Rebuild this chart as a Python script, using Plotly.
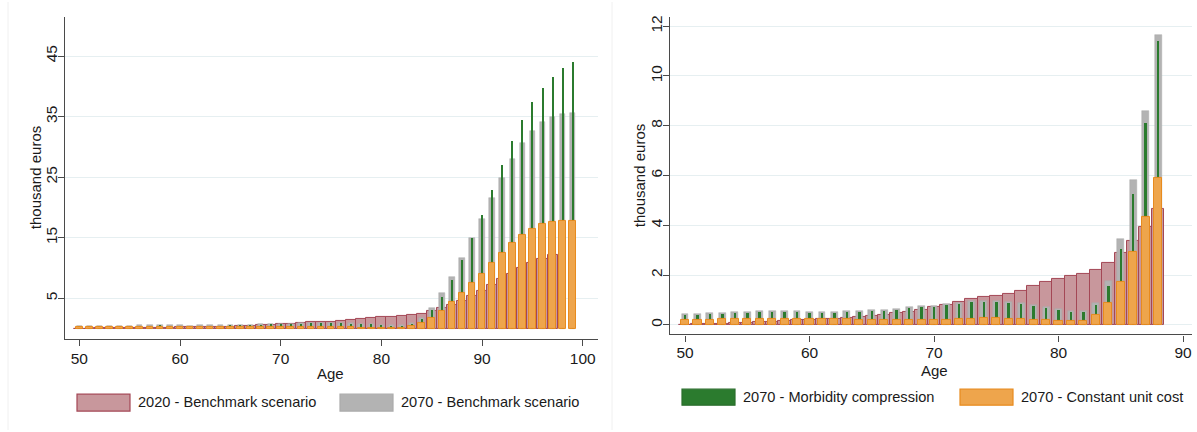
import plotly.graph_objects as go

# ---------------- data (thousand euros, by age) ----------------
ages = list(range(50, 100))

benchmark_2020 = [0.01, 0.02, 0.03, 0.05, 0.06, 0.08, 0.10, 0.12, 0.15, 0.18,
                  0.21, 0.23, 0.25, 0.27, 0.30, 0.35, 0.41, 0.47, 0.53, 0.61,
                  0.70, 0.81, 0.93, 1.04, 1.12, 1.16, 1.23, 1.38, 1.56, 1.73,
                  1.85, 1.96, 2.06, 2.22, 2.49, 2.90, 3.36, 3.95, 4.64, 5.40,
                  6.20, 7.20, 8.20, 9.10, 10.00, 10.80, 11.50, 12.20, None, None]

benchmark_2070 = [0.44, 0.44, 0.47, 0.49, 0.51, 0.52, 0.54, 0.56, 0.57, 0.55,
                  0.53, 0.52, 0.53, 0.54, 0.56, 0.58, 0.61, 0.65, 0.70, 0.74,
                  0.77, 0.82, 0.89, 0.94, 0.96, 0.96, 0.92, 0.87, 0.81, 0.73,
                  0.63, 0.55, 0.54, 0.86, 1.76, 3.45, 5.83, 8.60, 11.65, 14.95,
                  18.15, 21.50, 24.90, 28.00, 30.60, 32.70, 34.10, 35.00, 35.40, 35.60]

morbidity_2070 = [0.40, 0.40, 0.43, 0.45, 0.47, 0.48, 0.50, 0.52, 0.53, 0.51,
                  0.49, 0.48, 0.49, 0.50, 0.52, 0.54, 0.57, 0.61, 0.66, 0.70,
                  0.73, 0.78, 0.85, 0.90, 0.92, 0.92, 0.88, 0.83, 0.77, 0.69,
                  0.59, 0.51, 0.50, 0.80, 1.58, 3.05, 5.27, 8.10, 11.40, 14.90,
                  18.75, 22.90, 27.00, 30.90, 34.40, 37.40, 39.80, 41.60, 43.00, 44.00]

constant_cost_2070 = [0.20, 0.20, 0.21, 0.22, 0.22, 0.23, 0.24, 0.25, 0.25, 0.24,
                      0.23, 0.22, 0.22, 0.22, 0.21, 0.21, 0.20, 0.20, 0.20, 0.20,
                      0.21, 0.21, 0.23, 0.25, 0.26, 0.26, 0.25, 0.22, 0.19, 0.18,
                      0.17, 0.17, 0.17, 0.39, 0.87, 1.72, 2.93, 4.33, 5.90, 7.46,
                      9.10, 10.86, 12.56, 14.10, 15.46, 16.50, 17.20, 17.60, 17.80, 17.85]

right_last_age = 88

left_xticks = [50, 60, 70, 80, 90, 100]
left_yticks = [5, 15, 25, 35, 45]
right_xticks = [50, 60, 70, 80, 90]
right_yticks = [0, 2, 4, 6, 8, 10, 12]

series_names = ["2020 - Benchmark scenario", "2070 - Benchmark scenario",
                "2070 - Morbidity compression", "2070 - Constant unit cost"]

# ---------------- styling ----------------
W, H = 1197, 432
FONT = "Arial, Liberation Sans, sans-serif"
TXT = "#1a1a1a"
AXIS = "#4a4a4a"
GRID = "#e6eff1"

styles = [
    dict(color="#c8979c", line=dict(color="#a44755", width=1), width=1.0),
    dict(color="#b3b3b3", line=dict(color="#ababab", width=0.5), width=0.55),
    dict(color="#2b7b2e", line=dict(color="#2b7b2e", width=0), width=0.2),
    dict(color="#eea54c", line=dict(color="#e88b1e", width=1), width=0.65),
]
series = [benchmark_2020, benchmark_2070, morbidity_2070, constant_cost_2070]

fig = go.Figure()

n_right = ages.index(right_last_age) + 1
for panel, (xa, ya, n) in enumerate([("x", "y", len(ages)), ("x2", "y2", n_right)]):
    for name, vals, st in zip(series_names, series, styles):
        fig.add_trace(go.Bar(
            x=ages[:n], y=vals[:n], name=name, xaxis=xa, yaxis=ya,
            width=st["width"], opacity=1,
            marker=dict(color=st["color"], line=st["line"]),
            showlegend=False, hovertemplate="%{x}: %{y}<extra>" + name + "</extra>",
        ))


def px_x(p):
    return p / W


def px_y(p):
    return 1 - p / H


axis_common = dict(showline=True, linecolor=AXIS, linewidth=1.3, ticks="outside",
                   ticklen=6, tickwidth=1.2, tickcolor=AXIS, zeroline=False,
                   tickfont=dict(family=FONT, size=15.5, color=TXT))

fig.update_layout(
    width=W, height=H, margin=dict(l=0, r=0, t=0, b=0),
    paper_bgcolor="white", plot_bgcolor="white",
    barmode="overlay", bargap=0,
    font=dict(family=FONT, color=TXT),
    xaxis=dict(domain=[px_x(65), px_x(598)], anchor="y",
               range=[48.58, 101.51], tickvals=left_xticks, showgrid=False, **axis_common),
    yaxis=dict(domain=[px_y(338.3), px_y(15)], anchor="x",
               range=[-1.676, 51.45], tickvals=left_yticks, tickangle=-90,
               ticklabelstandoff=-5,
               showgrid=True, gridcolor=GRID, gridwidth=1, **axis_common),
    xaxis2=dict(domain=[px_x(670), px_x(1192)], anchor="y2",
                range=[48.795, 90.72], tickvals=right_xticks, showgrid=False,
                ticklabelstandoff=-2, **axis_common),
    yaxis2=dict(domain=[px_y(334), px_y(15)], anchor="x2",
                range=[-0.388, 12.372], tickvals=right_yticks, tickangle=-90,
                ticklabelstandoff=-5,
                showgrid=True, gridcolor=GRID, gridwidth=1, **axis_common),
)

shapes = []
annotations = []

# axis titles
for x, y, txt, ang in [(35, 177, "thousand euros", -90), (330, 373, "Age", 0),
                       (639, 175, "thousand euros", -90), (934, 370, "Age", 0)]:
    annotations.append(dict(x=px_x(x), y=px_y(y), xref="paper", yref="paper",
                            text=txt, showarrow=False, textangle=ang,
                            font=dict(family=FONT, size=15, color=TXT),
                            xanchor="center", yanchor="middle"))

# legends (drawn as swatches + labels)
legend_items = [
    (77, 394, 411, 402, 0),
    (340, 394, 411, 402, 1),
    (682, 389, 405, 397, 2),
    (960, 389, 405, 397, 3),
]
for x0, y0, y1, yc, idx in legend_items:
    st = styles[idx]
    lc = st["line"]["color"] if idx != 2 else "#2a6e2c"
    shapes.append(dict(type="rect", xref="paper", yref="paper",
                       x0=px_x(x0), x1=px_x(x0 + 53), y0=px_y(y1), y1=px_y(y0),
                       fillcolor=st["color"], line=dict(color=lc, width=1.2)))
    annotations.append(dict(x=px_x(x0 + 59), y=px_y(yc), xref="paper", yref="paper",
                            text=series_names[idx], showarrow=False,
                            font=dict(family=FONT, size=14.6, color=TXT),
                            xanchor="left", yanchor="middle"))

# faint panel frames
shapes.append(dict(type="line", xref="paper", yref="paper", x0=px_x(8), x1=px_x(8),
                   y0=px_y(430), y1=px_y(0), line=dict(color="#f0f0f0", width=1)))
shapes.append(dict(type="line", xref="paper", yref="paper", x0=px_x(612), x1=px_x(612),
                   y0=px_y(430), y1=px_y(0), line=dict(color="#f0f0f0", width=1)))

fig.update_layout(shapes=shapes, annotations=annotations)

fig.write_html("out.html", config={"displayModeBar": False},
               post_script="document.body.style.margin='0';document.body.style.overflow='hidden';")
